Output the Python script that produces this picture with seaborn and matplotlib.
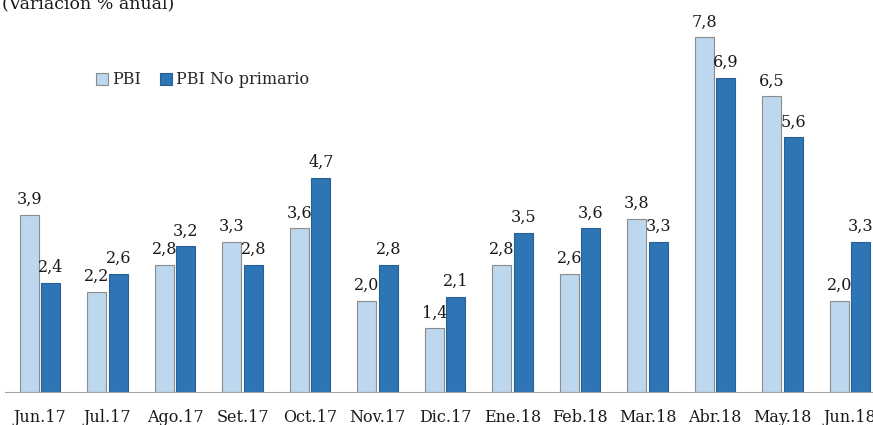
import pandas as pd
import matplotlib
matplotlib.use("Agg")
import matplotlib.pyplot as plt
import seaborn as sns

meses = ["Jun.17", "Jul.17", "Ago.17", "Set.17", "Oct.17", "Nov.17", "Dic.17",
         "Ene.18", "Feb.18", "Mar.18", "Abr.18", "May.18", "Jun.18"]
pbi = [3.9, 2.2, 2.8, 3.3, 3.6, 2.0, 1.4, 2.8, 2.6, 3.8, 7.8, 6.5, 2.0]
pbi_no_primario = [2.4, 2.6, 3.2, 2.8, 4.7, 2.8, 2.1, 3.5, 3.6, 3.3, 6.9, 5.6, 3.3]
series = ["PBI", "PBI No primario"]

df = pd.DataFrame({
    "Mes": meses * 2,
    "Valor": pbi + pbi_no_primario,
    "Serie": [series[0]] * len(meses) + [series[1]] * len(meses),
})

sns.set_style("white")
plt.rcParams["font.family"] = ["DejaVu Serif"]

fig = plt.figure(figsize=(8.73, 4.25), dpi=100)
ax = fig.add_axes([5 / 873, 33 / 425, 1 - 5 / 873, 392 / 425])

colores = ["#BDD7EE", "#2E75B6"]
bordes = ["#8C8C8C", "#2A5F94"]
sns.barplot(data=df, x="Mes", y="Valor", hue="Serie", palette=colores,
            saturation=1, width=0.64, ax=ax, legend=False)

for cont, borde in zip(ax.containers, bordes):
    for p in cont.patches:
        p.set_x(p.get_x() + 0.02)
        p.set_width(p.get_width() - 0.04)
        p.set_edgecolor(borde)
        p.set_linewidth(0.8)
    ax.bar_label(cont, labels=[f"{v:.1f}".replace(".", ",") for v in cont.datavalues],
                 padding=5, fontsize=11.5, color="#1a1a1a")

ax.set_xlim(-0.52, 12.34)
ax.set_ylim(0, 8.62)
ax.set_yticks([])
ax.set_xlabel("")
ax.set_ylabel("")
for s in ["top", "right", "left"]:
    ax.spines[s].set_visible(False)
ax.spines["bottom"].set_color("#A6A6A6")
ax.tick_params(axis="x", length=0, labelsize=11.5, pad=12, colors="#1a1a1a")

fig.text(0.002, 1 - 9 / 425, "(Variación % anual)", fontsize=12.5, color="#1a1a1a",
         va="baseline", ha="left")

handles = [plt.Rectangle((0, 0), 1, 1, facecolor=c, edgecolor=b, linewidth=0.8)
           for c, b in zip(colores, bordes)]
fig.legend(handles, series, loc="center left", bbox_to_anchor=(82 / 873, 1 - 80 / 425),
           ncol=2, frameon=False, fontsize=11.5, handlelength=0.7, handleheight=0.7,
           handletextpad=0.3, columnspacing=1.2)

fig.savefig("out.png", dpi=100)
